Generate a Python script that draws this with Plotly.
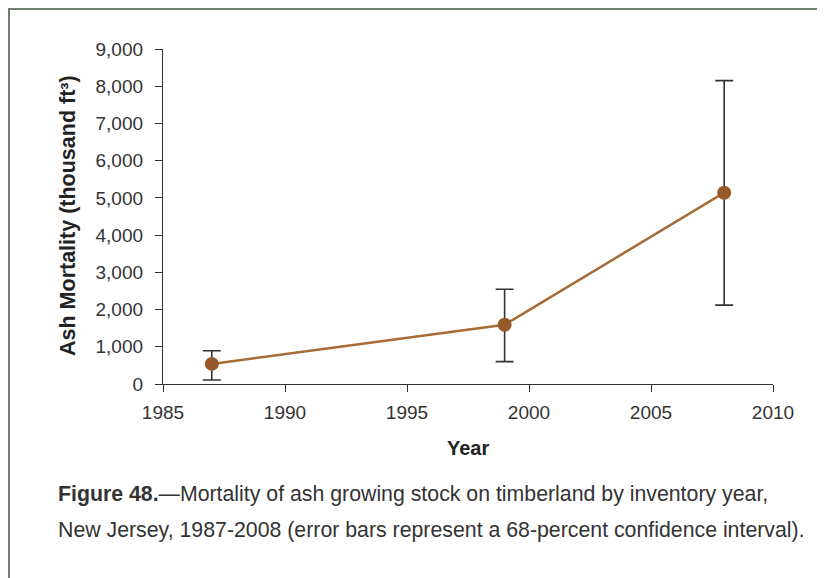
import plotly.graph_objects as go

years = [1987, 1999, 2008]
mortality = [540, 1590, 5140]
err_plus = [355, 955, 3010]
err_minus = [433, 990, 3020]
y_ticks = [0, 1000, 2000, 3000, 4000, 5000, 6000, 7000, 8000, 9000]
x_ticks = [1985, 1990, 1995, 2000, 2005, 2010]

# page body has an 8px margin, so the figure is shifted by 8px
OFF = 8
W, H = 825 - OFF, 578 - OFF
L, R, T, B = 163 - OFF, 52, 49 - OFF, 194
pw, ph = W - L - R, H - T - B

def px(x):  # screen pixel -> paper x
    return (x - OFF - L) / pw

def py(y):  # screen pixel -> paper y
    return (H - B - (y - OFF)) / ph

fig = go.Figure()
fig.add_trace(go.Scatter(
    x=years, y=mortality, mode="lines+markers",
    line=dict(color="#A86B35", width=2.5),
    marker=dict(color="#98592A", size=14),
    error_y=dict(type="data", array=err_plus, arrayminus=err_minus,
                 color="#333333", thickness=1.6, width=9),
    showlegend=False,
))

tickfont = dict(family="Liberation Sans, Arial, sans-serif", size=19, color="#333333")
fig.update_xaxes(range=[1985, 2010], tickvals=x_ticks, ticks="outside", ticklen=7,
                 tickcolor="#333333", showline=True, linecolor="#333333", linewidth=1.3,
                 showgrid=False, zeroline=False, tickfont=tickfont, ticklabelstandoff=4)
fig.update_yaxes(range=[0, 9000], tickvals=y_ticks, tickformat=",d", ticks="outside",
                 ticklen=7, tickcolor="#333333", showline=True, linecolor="#333333",
                 linewidth=1.3, showgrid=False, zeroline=False, tickfont=tickfont,
                 ticklabelstandoff=8)

fig.add_annotation(text="<b>Ash Mortality (thousand ft³)</b>", xref="paper", yref="paper",
                   x=px(68), y=py(216), textangle=-90, showarrow=False,
                   xanchor="center", yanchor="middle",
                   font=dict(family="Liberation Sans, Arial, sans-serif", size=21.5, color="#222222"))
fig.add_annotation(text="<b>Year</b>", xref="paper", yref="paper",
                   x=px(468), y=py(448), showarrow=False, xanchor="center", yanchor="middle",
                   font=dict(family="Liberation Sans, Arial, sans-serif", size=20, color="#222222"))

capfont = dict(family="Liberation Sans, Arial, sans-serif", size=21.3, color="#333333")
fig.add_annotation(text="<b>Figure 48.</b>—Mortality of ash growing stock on timberland by inventory year,",
                   xref="paper", yref="paper", x=px(56), y=py(494), showarrow=False,
                   xanchor="left", yanchor="middle", font=capfont)
fig.add_annotation(text="New Jersey, 1987-2008 (error bars represent a 68-percent confidence interval).",
                   xref="paper", yref="paper", x=px(56), y=py(530), showarrow=False,
                   xanchor="left", yanchor="middle", font=capfont)

fig.add_shape(type="rect", xref="paper", yref="paper",
              x0=px(9), x1=px(840), y0=py(9), y1=py(600),
              line=dict(color="#6F806F", width=2), fillcolor="rgba(0,0,0,0)", layer="below")

fig.update_layout(width=W, height=H, margin=dict(l=L, r=R, t=T, b=B),
                  plot_bgcolor="white", paper_bgcolor="white")
fig.write_html("out.html")
